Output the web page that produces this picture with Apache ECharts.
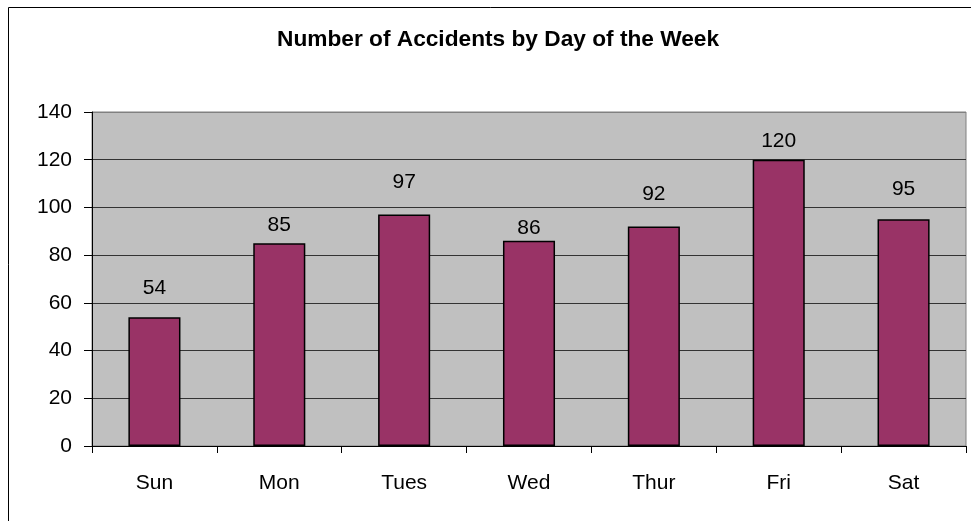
<!DOCTYPE html>
<html>
<head>
<meta charset="utf-8">
<script src="https://cdn.jsdelivr.net/npm/echarts@6/dist/echarts.min.js"></script>
<style>
html,body{margin:0;padding:0;background:#fff;}
#chart{width:971px;height:521px;}
</style>
</head>
<body>
<div id="chart"></div>
<script>
const titleText = 'Number of Accidents by Day of the Week';
const categories = ['Sun', 'Mon', 'Tues', 'Wed', 'Thur', 'Fri', 'Sat'];
const accidents = [54, 85, 97, 86, 92, 120, 95];
const labelGaps = [18, 8, 22, 2, 22, 8, 20];
const yMin = 0, yMax = 140, yStep = 20;

const chart = echarts.init(document.getElementById('chart'), null, {renderer: 'canvas'});
const font = 'Liberation Sans, Arial, sans-serif';
chart.setOption({
  animation: false,
  backgroundColor: '#fff',
  title: {
    text: titleText,
    left: 272,
    top: 23,
    textStyle: {fontFamily: font, fontWeight: 'bold', fontSize: 22.7, color: '#000'}
  },
  graphic: [{
    type: 'rect',
    shape: {x: 8.5, y: 7.5, width: 1000, height: 1000},
    style: {fill: 'none', stroke: '#000', lineWidth: 1},
    silent: true
  }],
  grid: {
    left: 92, top: 112, right: 5, bottom: 75,
    show: true, backgroundColor: '#C0C0C0', borderColor: '#808080', borderWidth: 1
  },
  xAxis: {
    type: 'category',
    data: categories,
    axisLine: {show: true, lineStyle: {color: '#000', width: 1}},
    axisTick: {show: true, length: 7, lineStyle: {color: '#000'}},
    axisLabel: {fontFamily: font, fontSize: 21, color: '#000', margin: 27},
    splitLine: {show: false}
  },
  yAxis: {
    type: 'value',
    min: yMin, max: yMax, interval: yStep,
    axisLine: {show: true, lineStyle: {color: '#000', width: 1}},
    axisTick: {show: true, length: 8, lineStyle: {color: '#000'}},
    axisLabel: {fontFamily: font, fontSize: 21, color: '#000', margin: 20},
    splitLine: {show: true, lineStyle: {color: ['#000', '#333', '#333', '#333', '#333', '#333', '#333', '#808080'], width: 1}}
  },
  series: [{
    type: 'bar',
    data: accidents.map((v, i) => ({
      value: v,
      label: {distance: labelGaps[i]}
    })),
    barWidth: '41.7%',
    itemStyle: {color: '#993366', borderColor: '#000', borderWidth: 1.5},
    label: {show: true, position: 'top', fontFamily: font, fontSize: 21, color: '#000'}
  }]
});
</script>
</body>
</html>
